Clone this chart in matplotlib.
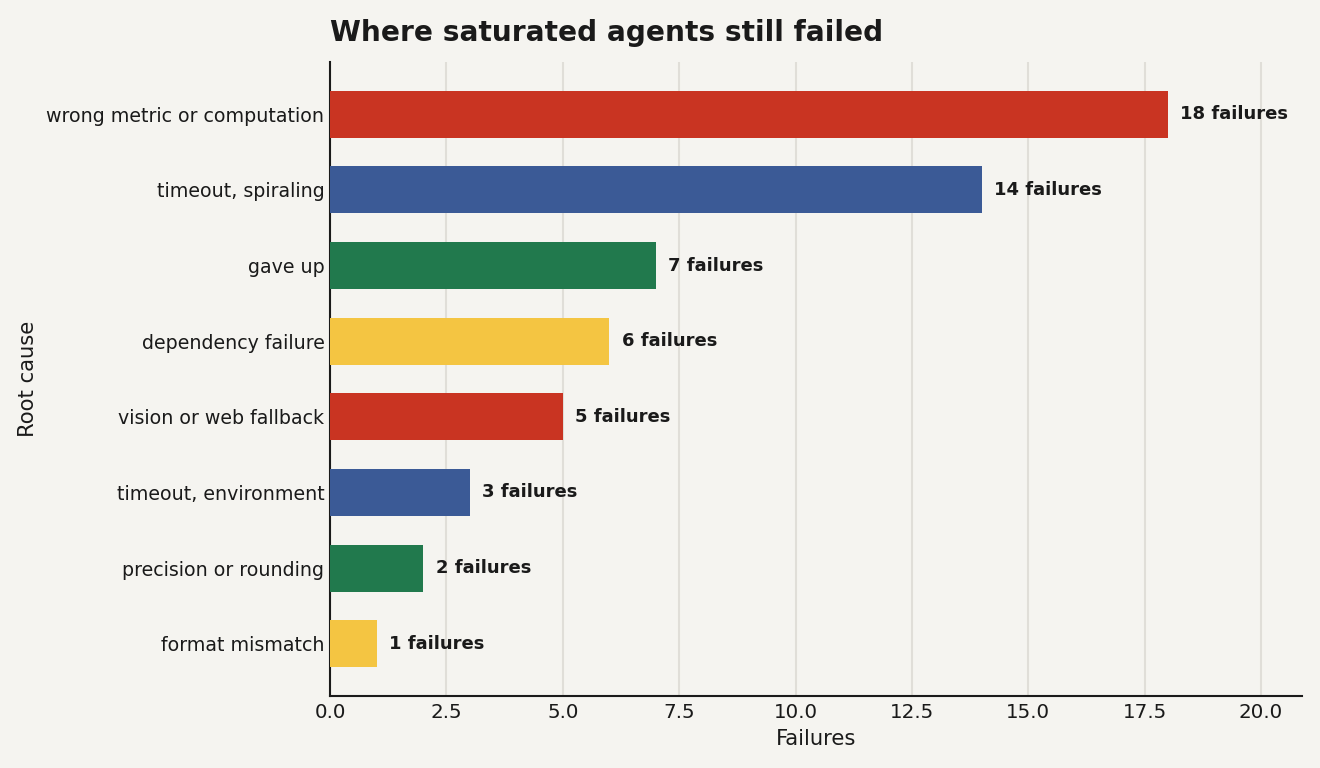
import matplotlib
matplotlib.use("Agg")
import matplotlib.pyplot as plt

categories = ["wrong metric or computation", "timeout, spiraling", "gave up",
              "dependency failure", "vision or web fallback", "timeout, environment",
              "precision or rounding", "format mismatch"]
values = [18, 14, 7, 6, 5, 3, 2, 1]
colors = ["#c93422", "#3b5a96", "#21794d", "#f4c542",
          "#c93422", "#3b5a96", "#21794d", "#f4c542"]
xticks = [0, 2.5, 5, 7.5, 10, 12.5, 15, 17.5, 20]

bg = "#f5f4f0"
ink = "#1a1a1a"

fig = plt.figure(figsize=(13.2, 7.68), dpi=100, facecolor=bg)
ax = fig.add_axes([330/1320, 1 - 696/768, (1302-330)/1320, (696-62)/768])
ax.set_facecolor(bg)

ypos = list(range(len(categories)))[::-1]
ax.barh(ypos, values, height=0.62, color=colors, zorder=3)
for y, v in zip(ypos, values):
    ax.text(v + 0.27, y, f"{v} failures", va="center", ha="left",
            fontsize=13, fontweight="bold", color=ink, zorder=4)

ax.set_yticks(ypos)
ax.set_yticklabels(categories)
ax.set_xlim(0, max(values) * 1.16)
ax.set_xticks(xticks)
ax.set_xticklabels([f"{t:.1f}" for t in xticks])
ax.tick_params(axis="y", labelsize=13.7, colors=ink, length=0, pad=4)
ax.tick_params(axis="x", labelsize=14.3, colors=ink, length=0, pad=5)
ax.grid(axis="x", color="#e0ded8", linewidth=1.5, zorder=0)
ax.grid(axis="y", visible=False)
for s in ["top", "right"]:
    ax.spines[s].set_visible(False)
for s in ["left", "bottom"]:
    ax.spines[s].set_color(ink)
    ax.spines[s].set_linewidth(1.5)
ax.set_xlabel("Failures", fontsize=15.2, color=ink, labelpad=5)
ax.set_ylabel("Root cause", fontsize=15.2, color=ink, labelpad=6)
ax.set_title("Where saturated agents still failed", loc="left", fontsize=20.2,
             fontweight="bold", color=ink, pad=15)

fig.savefig("out.png", dpi=100, facecolor=bg)
